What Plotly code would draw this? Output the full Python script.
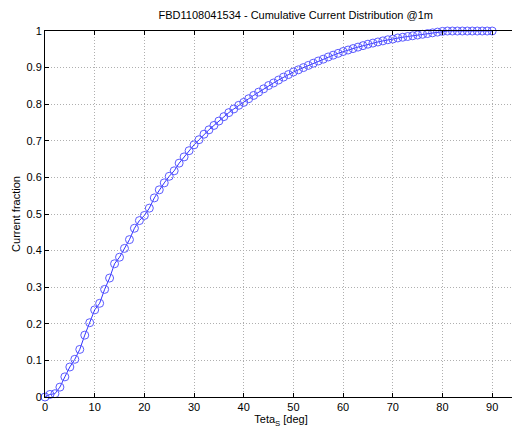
import plotly.graph_objects as go

theta_deg = list(range(0, 91))
current_fraction = [
    0.000, 0.007, 0.009, 0.027, 0.055, 0.082, 0.103, 0.130, 0.169, 0.203,
    0.238, 0.256, 0.294, 0.325, 0.364, 0.382, 0.406, 0.430, 0.461, 0.482,
    0.496, 0.516, 0.544, 0.566, 0.585, 0.603, 0.618, 0.639, 0.656, 0.673,
    0.689, 0.703, 0.718, 0.730, 0.742, 0.754, 0.766, 0.777, 0.787, 0.797,
    0.805, 0.815, 0.824, 0.833, 0.842, 0.851, 0.858, 0.866, 0.874, 0.881,
    0.888, 0.894, 0.900, 0.906, 0.912, 0.918, 0.923, 0.929, 0.934, 0.939,
    0.944, 0.948, 0.952, 0.956, 0.960, 0.964, 0.967, 0.970, 0.973, 0.976,
    0.978, 0.981, 0.983, 0.985, 0.987, 0.989, 0.991, 0.993, 0.995, 0.997,
    0.999, 1.000, 1.000, 1.000, 1.000, 1.000, 1.000, 1.000, 1.000, 1.000,
    1.000,
]
x_ticks = [0, 10, 20, 30, 40, 50, 60, 70, 80, 90]
y_ticks = [0, 0.1, 0.2, 0.3, 0.4, 0.5, 0.6, 0.7, 0.8, 0.9, 1]
y_tick_labels = ["0", "0.1", "0.2", "0.3", "0.4", "0.5", "0.6", "0.7", "0.8", "0.9", "1"]

fig = go.Figure()
fig.add_trace(go.Scatter(
    x=theta_deg, y=current_fraction, mode="lines+markers",
    line=dict(color="rgb(0,0,255)", width=0.8),
    marker=dict(symbol="circle-open", size=8, color="rgb(90,90,255)", line=dict(width=1)),
    cliponaxis=False,
))

axis_common = dict(
    showline=True, linecolor="black", linewidth=1, mirror="ticks",
    ticks="inside", ticklen=4, tickcolor="black",
    showgrid=True, gridcolor="rgb(175,175,175)", griddash="1px,2px", gridwidth=1,
    zeroline=False, automargin=False,
    tickfont=dict(family="Liberation Sans, Arial", size=11, color="black"),
)

# The page body has an 8px margin, so the figure is sized to fit the 520x430 window.
fig.update_layout(
    width=512, height=422,
    margin=dict(l=37, r=3, t=23, b=33),
    paper_bgcolor="white", plot_bgcolor="white",
    showlegend=False,
    font=dict(family="Liberation Sans, Arial", size=11, color="black"),
    title=dict(text="FBD1108041534 - Cumulative Current Distribution @1m",
               x=272 / 512, xanchor="center", xref="paper",
               y=1 - 7 / 422, yanchor="middle", yref="container",
               font=dict(size=11, color="black"), automargin=False),
    xaxis=dict(range=[0, 95], tickvals=x_ticks,
               title=dict(text="Teta<sub>S</sub> [deg]", standoff=0, font=dict(size=11)),
               **axis_common),
    yaxis=dict(range=[0, 1], tickvals=y_ticks, ticktext=y_tick_labels,
               title=dict(text="Current fraction", standoff=3, font=dict(size=11)),
               **axis_common),
)

fig.write_html("out.html")
